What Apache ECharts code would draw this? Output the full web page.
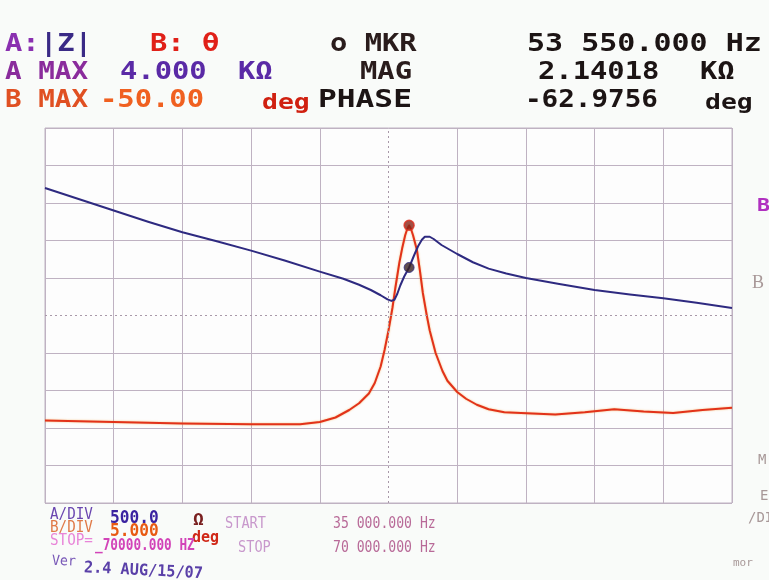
<!DOCTYPE html>
<html>
<head>
<meta charset="utf-8">
<script src="https://cdn.jsdelivr.net/npm/echarts/dist/echarts.min.js"></script>
<style>
  html, body { margin: 0; padding: 0; background: #f9fbf9; }
  #chart { width: 769px; height: 580px; }
</style>
</head>
<body>
<div id="chart"></div>
<script>
// sweep 35 kHz .. 70 kHz, 10 divisions
const freqMin = 35000, freqMax = 70000, freqDiv = 3500;
// trace A: |Z| in ohms (500 ohm/div, max 4 kOhm)
const magMin = -1000, magMax = 4000, magDiv = 500;
// trace B: phase in deg (5 deg/div, max -50 deg)
const phaseMin = -100, phaseMax = -50, phaseDiv = 5;

const magFreq  = [35000, 36750, 38500, 40250, 42000, 43750, 45500, 47250, 49000, 50200, 51000, 51600, 52100, 52450, 52650, 52800, 52950, 53100, 53300, 53550, 53800, 54000, 54200, 54350, 54450, 54600, 54800, 55200, 55600, 56000, 56800, 57600, 58500, 59500, 61200, 63000, 64800, 66500, 68200, 70000];
const magOhm   = [3200, 3050, 2900, 2750, 2610, 2490, 2365, 2230, 2085, 1990, 1910, 1840, 1770, 1715, 1695, 1710, 1790, 1900, 2020, 2140, 2300, 2420, 2510, 2550, 2560, 2550, 2520, 2440, 2380, 2320, 2210, 2125, 2060, 2000, 1920, 1840, 1780, 1730, 1670, 1600];

const phaseFreq = [35000, 38500, 42000, 45500, 48000, 49000, 49800, 50500, 51000, 51500, 51800, 52100, 52300, 52500, 52700, 52850, 53050, 53200, 53350, 53450, 53550, 53650, 53750, 53950, 54100, 54250, 54450, 54600, 54900, 55250, 55500, 56000, 56450, 57000, 57600, 58400, 59250, 61000, 62500, 64000, 65500, 67000, 68500, 70000];
const phaseDeg  = [-89, -89.2, -89.4, -89.5, -89.5, -89.2, -88.6, -87.6, -86.7, -85.4, -84, -81.8, -79.6, -77, -74, -71.3, -68, -66, -64.3, -63.5, -63, -63.5, -64.3, -66.3, -69, -72, -75, -77, -80, -82.4, -83.7, -85.2, -86.1, -86.9, -87.5, -87.9, -88, -88.2, -87.9, -87.5, -87.8, -88, -87.6, -87.3];

// marker readout
const mkrFreq = 53550;
const mkrMag = 2140.18;
const mkrPhase = -62.9756;

const chart = echarts.init(document.getElementById('chart'));

const gridColor = '#bfb2c2';
const lineColors = [];
for (let i = 0; i <= 10; i++) lineColors.push(i === 5 ? 'rgba(0,0,0,0)' : gridColor);

const mono = '"DejaVu Sans Mono", monospace';
function txt(x, y, s, color, size, opts) {
  opts = opts || {};
  return {
    type: 'text', x: x, y: y,
    scaleX: opts.sx || 1.2, rotation: opts.rot || 0,
    style: {
      text: s, fill: color, verticalAlign: 'middle',
      font: (opts.w || 'bold') + ' ' + size + 'px ' + (opts.family || mono)
    }
  };
}

const graphics = [
  // header
  txt(5, 45, 'A:', '#8a30b0', 24),
  txt(40, 45, '|Z|', '#3a2a86', 24),
  txt(150, 45, 'B: θ', '#e02018', 24),
  txt(330, 45, 'o MKR', '#2a1c1c', 24),
  txt(527, 45, '53 550.000 Hz', '#1c1414', 24, { sx: 1.25 }),
  txt(5, 73, 'A MAX', '#8a2c9c', 24, { sx: 1.15 }),
  txt(120, 73, '4.000', '#5a2aa6', 24),
  txt(238, 73, 'KΩ', '#5a2aa6', 24),
  txt(360, 73, 'MAG', '#2a1c1c', 24),
  txt(538, 73, '2.14018', '#1c1414', 24),
  txt(700, 73, 'KΩ', '#1c1414', 24),
  txt(5, 101, 'B MAX', '#e05022', 24, { sx: 1.15 }),
  txt(100, 101, '-50.00', '#f06020', 24),
  txt(262, 103, 'deg', '#d02010', 22),
  txt(318, 101, 'PHASE', '#1c1414', 24, { sx: 1.3 }),
  txt(525, 101, '-62.9756', '#1c1414', 24, { sx: 1.15 }),
  txt(705, 103, 'deg', '#1c1414', 22),
  // footer
  txt(50, 515, 'A/DIV', '#6a46b0', 15, { w: 'normal', sx: 0.95 }),
  txt(110, 519, '500.0', '#3a22a0', 17, { sx: 0.95 }),
  txt(193, 521, 'Ω', '#7a2020', 15),
  txt(50, 528, 'B/DIV', '#e07a48', 15, { w: 'normal', sx: 0.95 }),
  txt(110, 532, '5.000', '#e85a12', 17, { sx: 0.95 }),
  txt(192, 538, 'deg', '#d02818', 15, { sx: 1.0 }),
  txt(50, 541, 'STOP=', '#e884d8', 15, { w: 'normal', sx: 0.95 }),
  txt(95, 546, '_70000.000 HZ', '#d244b8', 15, { sx: 0.85 }),
  txt(52, 561, 'Ver', '#7a5ab8', 14, { w: 'normal', sx: 0.95, rot: -0.04 }),
  txt(84, 568, '2.4 AUG/15/07', '#5a40a8', 16, { sx: 0.95, rot: -0.05 }),
  txt(225, 524, 'START', '#c898cc', 16, { w: 'normal', sx: 0.85 }),
  txt(238, 548, 'STOP', '#c898cc', 16, { w: 'normal', sx: 0.85 }),
  txt(333, 524, '35 000.000 Hz', '#b86a98', 16, { w: 'normal', sx: 0.82 }),
  txt(333, 548, '70 000.000 Hz', '#b86a98', 16, { w: 'normal', sx: 0.82 }),
  // right margin softkey labels
  txt(757, 206, 'B', '#b030c0', 18),
  txt(752, 283, 'B', '#a89898', 18, { w: 'normal', family: 'serif', sx: 1 }),
  txt(758, 460, 'M', '#a89898', 14, { w: 'normal', sx: 1 }),
  txt(760, 496, 'E', '#a89898', 14, { w: 'normal', sx: 1 }),
  txt(748, 518, '/DI', '#a89898', 14, { w: 'normal', sx: 1 }),
  txt(733, 563, 'mor', '#a89898', 11, { w: 'normal', sx: 1 })
];

const option = {
  backgroundColor: '#f9fbf9',
  animation: false,
  grid: {
    left: 45, right: 37, top: 128, bottom: 77,
    show: true, borderColor: gridColor, borderWidth: 1,
    backgroundColor: 'rgba(255,255,255,0.6)'
  },
  xAxis: {
    type: 'value', min: freqMin, max: freqMax, interval: freqDiv,
    axisLine: { show: false }, axisTick: { show: false }, axisLabel: { show: false },
    splitLine: { show: true, lineStyle: { color: lineColors, width: 1 } }
  },
  yAxis: [
    {
      type: 'value', min: magMin, max: magMax, interval: magDiv,
      axisLine: { show: false }, axisTick: { show: false }, axisLabel: { show: false },
      splitLine: { show: true, lineStyle: { color: lineColors, width: 1 } }
    },
    {
      type: 'value', min: phaseMin, max: phaseMax, interval: phaseDiv,
      axisLine: { show: false }, axisTick: { show: false }, axisLabel: { show: false },
      splitLine: { show: false }
    }
  ],
  graphic: graphics,
  series: [
    {
      name: '|Z|', type: 'line', yAxisIndex: 0,
      data: magFreq.map((f, i) => [f, magOhm[i]]),
      smooth: false, showSymbol: false,
      lineStyle: { color: '#2e2a80', width: 2, join: 'round' },
      // dotted centre lines of the graticule
      markLine: {
        silent: true, symbol: 'none', label: { show: false },
        lineStyle: { color: '#a898a8', type: [2, 3], width: 1 },
        data: [{ xAxis: (freqMin + freqMax) / 2 }, { yAxis: (magMin + magMax) / 2 }]
      },
      z: 3
    },
    {
      name: 'θ', type: 'line', yAxisIndex: 1,
      data: phaseFreq.map((f, i) => [f, phaseDeg[i]]),
      smooth: false, showSymbol: false,
      lineStyle: { color: '#e2321a', width: 2, join: 'round', shadowColor: 'rgba(240,150,40,0.6)', shadowBlur: 2 },
      z: 2
    },
    {
      type: 'scatter', yAxisIndex: 1, data: [[mkrFreq, mkrPhase]],
      symbolSize: 10, itemStyle: { color: '#8a2418', borderColor: '#e03020', borderWidth: 1.5 }, z: 5
    },
    {
      type: 'scatter', yAxisIndex: 0, data: [[mkrFreq, mkrMag]],
      symbolSize: 10, itemStyle: { color: '#3a2222', borderColor: '#2e2a80', borderWidth: 1 }, z: 5
    }
  ]
};

chart.setOption(option);
</script>
</body>
</html>
